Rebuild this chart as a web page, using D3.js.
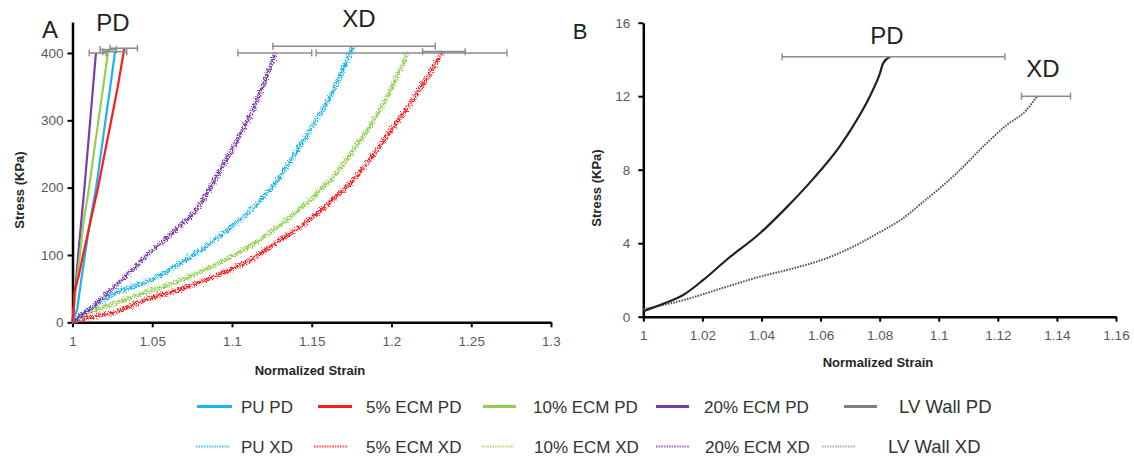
<!DOCTYPE html>
<html>
<head>
<meta charset="utf-8">
<script src="https://cdn.jsdelivr.net/npm/d3@7"></script>
<style>
  html, body { margin: 0; padding: 0; background: #fff; }
  svg { display: block; }
  text { font-family: "Liberation Sans", Arial, sans-serif; }
</style>
</head>
<body>
<svg id="chart" width="1134" height="457"></svg>
<script>
// ---- Panel A: scaffold stress-strain curves (strain, stress kPa) ----
const puPD      = [[1,0],[1.003,20],[1.0047,50],[1.0078,100],[1.011,150],[1.0148,200],[1.0178,250],[1.0207,300],[1.0237,350],[1.0267,402]];
const ecm5PD    = [[1,0],[1.0008,20],[1.0012,45],[1.004,70],[1.0066,100],[1.0113,150],[1.016,200],[1.0201,250],[1.0243,300],[1.0284,350],[1.0325,407]];
const ecm10PD   = [[1,0],[1.0022,50],[1.0046,100],[1.007,150],[1.0104,200],[1.0133,250],[1.0163,300],[1.0193,350],[1.0225,405]];
const ecm20PD   = [[1,0],[1.0018,50],[1.0036,100],[1.0055,150],[1.0075,200],[1.0093,250],[1.0111,300],[1.0129,350],[1.0147,400]];

const puXD      = [[1,0],[1.008,15],[1.0267,43],[1.0486,62],[1.065,84],[1.08,107],[1.096,135],[1.1114,166],[1.128,210],[1.1427,262],[1.1635,345],[1.176,410]];
const ecm5XD    = [[1,0],[1.008,6],[1.0267,15],[1.0486,36],[1.065,47],[1.08,60],[1.096,75],[1.111,92],[1.132,125],[1.143,142],[1.163,182],[1.18,222],[1.195,270],[1.216,340],[1.232,402]];
const ecm10XD   = [[1,0],[1.008,12],[1.0267,28],[1.0486,47],[1.065,60],[1.08,75],[1.096,93],[1.111,113],[1.132,148],[1.147,178],[1.163,215],[1.178,262],[1.195,325],[1.21,400]];
const ecm20XD   = [[1,0],[1.005,10],[1.012,22],[1.0235,47],[1.035,72],[1.0486,104],[1.065,138],[1.079,172],[1.09,215],[1.1007,260],[1.1157,330],[1.127,400]];

// error bars at the failure point: [low strain, high strain, stress]
const barsPD_A  = [[1.0105,1.021,400],[1.0173,1.0275,405],[1.019,1.034,402],[1.0235,1.0407,407]];
const barsXD_A  = [[1.1037,1.150,400],[1.1256,1.2274,410],[1.1527,1.2724,400],[1.2195,1.2462,402]];

// ---- Panel B: left-ventricle wall ----
const lvPD = [[1,0.3],[1.0067,0.7],[1.0135,1.18],[1.0203,2.0],[1.0282,3.1],[1.0395,4.54],[1.0485,5.95],[1.0575,7.5],[1.0666,9.3],[1.0711,10.4],[1.0767,12.0],[1.0800,13.2],[1.0812,13.8],[1.0835,14.15]];
const lvXD = [[1,0.4],[1.0135,0.9],[1.0282,1.63],[1.0395,2.18],[1.0508,2.63],[1.062,3.18],[1.0733,4.0],[1.0778,4.4],[1.0891,5.5],[1.0936,6.1],[1.1004,7.0],[1.106,7.8],[1.1162,9.44],[1.123,10.43],[1.1297,11.25],[1.1333,12]];
const barsB = [[1.047,1.1224,14.15],[1.128,1.1446,12]];

// ---- ticks ----
const ticksXA = [1,1.05,1.1,1.15,1.2,1.25,1.3];
const ticksYA = [0,100,200,300,400];
const ticksXB = [1,1.02,1.04,1.06,1.08,1.1,1.12,1.14,1.16];
const ticksYB = [0,4,8,12,16];

// ---- legend ----
const legendNames = ["PU PD","5% ECM PD","10% ECM PD","20% ECM PD","LV Wall PD",
                     "PU XD","5% ECM XD","10% ECM XD","20% ECM XD","LV Wall XD"];

const colors = { pu: "#19b4ef", e5: "#ff1a1a", e10: "#92d050", e20: "#7a3bb0", lv: "#222222" };

const svg = d3.select("#chart");

// noise texture for the scattered cross-direction traces
const defs = svg.append("defs");
const f = defs.append("filter").attr("id", "speckle").attr("x", "-5%").attr("y", "-5%").attr("width", "110%").attr("height", "110%");
f.append("feTurbulence").attr("type", "fractalNoise").attr("baseFrequency", "0.8").attr("numOctaves", 2).attr("seed", 3).attr("result", "n");
f.append("feDisplacementMap").attr("in", "SourceGraphic").attr("in2", "n").attr("scale", 7).attr("xChannelSelector", "R").attr("yChannelSelector", "G");

// ---------- Panel A ----------
const xA = d3.scaleLinear().domain([1, 1.3]).range([72.5, 551]);
const yA = d3.scaleLinear().domain([0, 446]).range([322.3, 22]);

function styleAxis(g) {
  g.select(".domain").attr("stroke", "#000").attr("stroke-width", 2.5);
  g.selectAll(".tick line").attr("stroke", "#000").attr("stroke-width", 2);
  g.selectAll(".tick text").attr("fill", "#595959").attr("font-size", "13.5px")
    .attr("font-family", "'Liberation Sans', Arial, sans-serif");
}

const gA = svg.append("g");
gA.append("g").attr("transform", `translate(0,${yA(0)})`)
  .call(d3.axisBottom(xA).tickValues(ticksXA).tickFormat(d3.format("")).tickSize(5).tickSizeOuter(0).tickPadding(9))
  .call(styleAxis);
gA.append("g").attr("transform", `translate(${xA(1)},0)`)
  .call(d3.axisLeft(yA).tickValues(ticksYA).tickSize(5).tickSizeOuter(0).tickPadding(4))
  .call(styleAxis);

const lineA = d3.line().x(d => xA(d[0])).y(d => yA(d[1]));
const smoothA = d3.line().x(d => xA(d[0])).y(d => yA(d[1])).curve(d3.curveMonotoneX);

function errBars(g, bars, x, y) {
  bars.forEach(b => {
    const yy = y(b[2]);
    g.append("line").attr("x1", x(b[0])).attr("x2", x(b[1])).attr("y1", yy).attr("y2", yy)
      .attr("stroke", "#8c8c8c").attr("stroke-width", 1.6);
    [b[0], b[1]].forEach(v => g.append("line").attr("x1", x(v)).attr("x2", x(v))
      .attr("y1", yy - 3.5).attr("y2", yy + 3.5).attr("stroke", "#8c8c8c").attr("stroke-width", 1.4));
  });
}

const xdSeries = [[ecm5XD, colors.e5],[ecm10XD, colors.e10],[puXD, colors.pu],[ecm20XD, colors.e20]];
xdSeries.forEach(([d, c]) => {
  gA.append("path").attr("d", smoothA(d)).attr("fill", "none").attr("stroke", c)
    .attr("stroke-width", 4.2).attr("stroke-dasharray", "2,0.9")
    .attr("filter", "url(#speckle)");
});
const pdSeries = [[ecm20PD, colors.e20],[ecm10PD, colors.e10],[puPD, colors.pu],[ecm5PD, colors.e5]];
pdSeries.forEach(([d, c]) => {
  gA.append("path").attr("d", lineA(d)).attr("fill", "none").attr("stroke", c)
    .attr("stroke-width", 2.2).attr("stroke-linejoin", "round");
});
errBars(gA, barsPD_A, xA, yA);
errBars(gA, barsXD_A, xA, yA);

gA.append("text").attr("x", 50).attr("y", 38).attr("text-anchor", "middle").attr("font-size", "24px").attr("fill", "#222").text("A");
gA.append("text").attr("x", 113).attr("y", 31).attr("text-anchor", "middle").attr("font-size", "24px").attr("fill", "#222").text("PD");
gA.append("text").attr("x", 359).attr("y", 27).attr("text-anchor", "middle").attr("font-size", "24px").attr("fill", "#222").text("XD");
gA.append("text").attr("transform", "translate(24,190) rotate(-90)").attr("text-anchor", "middle")
  .attr("font-size", "13px").attr("font-weight", "bold").attr("fill", "#262626").text("Stress (KPa)");
gA.append("text").attr("x", 310).attr("y", 375).attr("text-anchor", "middle")
  .attr("font-size", "13px").attr("font-weight", "bold").attr("fill", "#262626").text("Normalized Strain");

// ---------- Panel B ----------
const xB = d3.scaleLinear().domain([1, 1.16]).range([643.3, 1116]);
const yB = d3.scaleLinear().domain([0, 16]).range([316.7, 22.7]);

const gB = svg.append("g");
gB.append("g").attr("transform", `translate(0,${yB(0)})`)
  .call(d3.axisBottom(xB).tickValues(ticksXB).tickFormat(d3.format("")).tickSize(5).tickSizeOuter(0).tickPadding(9))
  .call(styleAxis);
gB.append("g").attr("transform", `translate(${xB(1)},0)`)
  .call(d3.axisLeft(yB).tickValues(ticksYB).tickSize(5).tickSizeOuter(0).tickPadding(8))
  .call(styleAxis);

const lineB = d3.line().x(d => xB(d[0])).y(d => yB(d[1])).curve(d3.curveMonotoneX);
gB.append("path").attr("d", lineB(lvXD)).attr("fill", "none").attr("stroke", "#555")
  .attr("stroke-width", 2).attr("stroke-dasharray", "1.6,1.2");
gB.append("path").attr("d", lineB(lvPD)).attr("fill", "none").attr("stroke", colors.lv)
  .attr("stroke-width", 2.2).attr("stroke-linejoin", "round");
errBars(gB, barsB, xB, yB);

gB.append("text").attr("x", 580).attr("y", 39).attr("text-anchor", "middle").attr("font-size", "22px").attr("fill", "#222").text("B");
gB.append("text").attr("x", 887).attr("y", 44).attr("text-anchor", "middle").attr("font-size", "24px").attr("fill", "#222").text("PD");
gB.append("text").attr("x", 1043).attr("y", 77).attr("text-anchor", "middle").attr("font-size", "24px").attr("fill", "#222").text("XD");
gB.append("text").attr("transform", "translate(601,188) rotate(-90)").attr("text-anchor", "middle")
  .attr("font-size", "13px").attr("font-weight", "bold").attr("fill", "#262626").text("Stress (KPa)");
gB.append("text").attr("x", 878).attr("y", 367).attr("text-anchor", "middle")
  .attr("font-size", "13px").attr("font-weight", "bold").attr("fill", "#262626").text("Normalized Strain");

// ---------- Legend ----------
const legendItems = [
  { x1: 197, x2: 232, tx: 241, row: 0, color: colors.pu,  dash: null, size: 17 },
  { x1: 318, x2: 352, tx: 366, row: 0, color: colors.e5,  dash: null, size: 17 },
  { x1: 483, x2: 516, tx: 533, row: 0, color: colors.e10, dash: null, size: 17 },
  { x1: 656, x2: 689, tx: 704, row: 0, color: colors.e20, dash: null, size: 17 },
  { x1: 844, x2: 877, tx: 899, row: 0, color: "#808080", dash: null, size: 18.5 },
  { x1: 196, x2: 230, tx: 241, row: 1, color: colors.pu,  dash: "1.6,1", size: 17 },
  { x1: 314, x2: 348, tx: 366, row: 1, color: colors.e5,  dash: "1.6,1", size: 17 },
  { x1: 482, x2: 514, tx: 534, row: 1, color: colors.e10, dash: "1.6,1", size: 17 },
  { x1: 656, x2: 690, tx: 705, row: 1, color: colors.e20, dash: "1.6,1", size: 17 },
  { x1: 822, x2: 855, tx: 888, row: 1, color: "#9a9a9a", dash: "1.6,1", size: 18.5 }
];
const rowY = [406.5, 446.5];
const lg = svg.append("g");
legendItems.forEach((it, i) => {
  const y = rowY[it.row];
  lg.append("line").attr("x1", it.x1).attr("x2", it.x2).attr("y1", y).attr("y2", y)
    .attr("stroke", it.color).attr("stroke-width", it.dash ? 2.2 : 3)
    .attr("stroke-dasharray", it.dash).attr("opacity", it.dash ? 0.75 : 1);
  lg.append("text").attr("x", it.tx).attr("y", y + 6).attr("font-size", it.size + "px")
    .attr("fill", "#333").text(legendNames[i]);
});
</script>
</body>
</html>
